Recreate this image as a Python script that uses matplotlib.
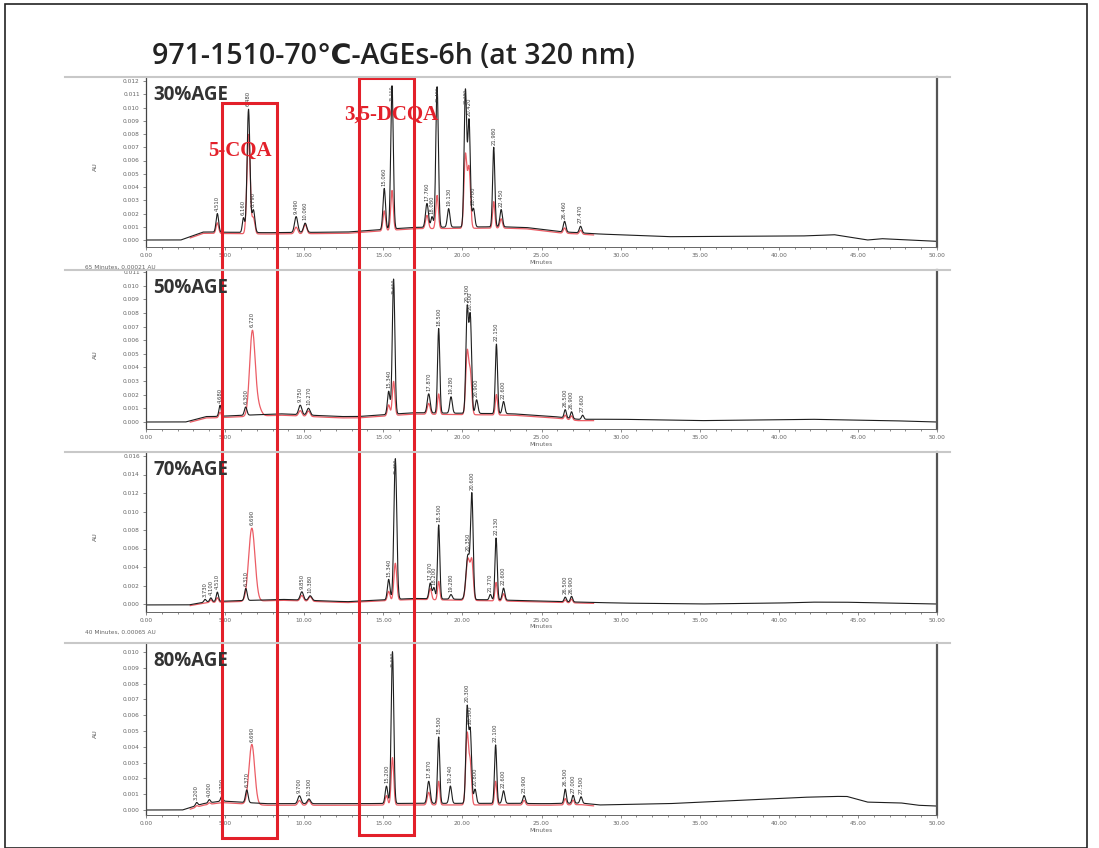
import numpy as np
import matplotlib.pyplot as plt
from matplotlib.patches import Rectangle
from matplotlib.lines import Line2D
from matplotlib.ticker import FormatStrFormatter, MultipleLocator

W, H = 1099, 848

title = "971-1510-70℃-AGEs-6h (at 320 nm)"
panel_names = ["30%AGE", "50%AGE", "70%AGE", "80%AGE"]
footer_texts = ["65 Minutes, 0.00021 AU", None, "40 Minutes, 0.00065 AU", None]

# baseline knots (minutes, AU)
base30_t = [0, 2.2, 3.6, 4.2, 7.6, 12.7, 16.9, 22.4, 24.0, 26.2, 28.7, 33.0, 41.4, 43.5, 45.6, 46.5, 50]
base30_v = [0.0, 0.0, 0.0006, 0.0006, 0.00055, 0.0006, 0.00095, 0.001, 0.00095, 0.00063, 0.00045, 0.00025, 0.0003, 0.0004, 0.0, 0.0001, -0.0001]
base50_t = [0, 2.5, 3.8, 4.2, 8.5, 12.3, 13.4, 16.9, 23.2, 25.8, 27.3, 30, 35, 42, 47, 50]
base50_v = [0.0, 0.0, 0.0004, 0.0004, 0.0006, 0.0004, 0.0004, 0.00068, 0.0006, 0.0004, 0.0002, 0.0002, 0.0001, 0.0002, 0.0001, 0.0]
base70_t = [0, 2.7, 3.9, 4.8, 8.6, 12.7, 16.9, 23.2, 27.5, 30, 35, 40, 42, 44, 47, 50]
base70_v = [-0.0001, -0.0001, 0.00025, 0.0003, 0.0005, 0.00025, 0.0006, 0.0004, 0.0002, 0.0001, 0.0, 0.0001, 0.0002, 0.0002, 0.0001, 0.0]
base80_t = [0, 2.3, 3.6, 4.8, 5.9, 7.6, 12.7, 16.9, 23.2, 25.3, 27.5, 28.7, 33.0, 37.2, 41.4, 43.5, 44.3, 45.6, 47.7, 48.8, 50]
base80_v = [0.0, 0.0, 0.0004, 0.00057, 0.0005, 0.0004, 0.0004, 0.00042, 0.00042, 0.0004, 0.00044, 0.00032, 0.0004, 0.0006, 0.0008, 0.00086, 0.00086, 0.0005, 0.00045, 0.0003, 0.00025]

# black trace peaks: (retention time, height above baseline, width)
peaks30 = [(4.51, 0.0014, 0.08), (6.16, 0.0011, 0.07), (6.48, 0.0093, 0.09), (6.79, 0.0017, 0.09),
           (9.49, 0.0012, 0.10), (10.06, 0.0007, 0.10), (15.06, 0.0031, 0.08), (15.55, 0.0108, 0.08),
           (17.76, 0.0018, 0.09), (18.08, 0.0008, 0.07), (18.40, 0.0106, 0.08), (19.13, 0.0014, 0.08),
           (20.19, 0.0103, 0.08), (20.42, 0.0080, 0.08), (20.70, 0.0014, 0.08), (21.98, 0.0060, 0.07),
           (22.45, 0.0013, 0.08), (26.46, 0.0008, 0.08), (27.47, 0.0005, 0.08)]
peaks50 = [(4.68, 0.0008, 0.07), (6.30, 0.0006, 0.08), (9.75, 0.0007, 0.10), (10.27, 0.0005, 0.10),
           (15.34, 0.0017, 0.08), (15.65, 0.0099, 0.08), (17.87, 0.0014, 0.09), (18.50, 0.0062, 0.07),
           (19.28, 0.0012, 0.08), (20.30, 0.0076, 0.08), (20.50, 0.0070, 0.08), (20.90, 0.0010, 0.08),
           (22.15, 0.0051, 0.07), (22.60, 0.0009, 0.08), (26.50, 0.0006, 0.07), (26.90, 0.0005, 0.07),
           (27.60, 0.0003, 0.07)]
peaks70 = [(3.73, 0.0003, 0.07), (4.10, 0.0004, 0.07), (4.51, 0.0010, 0.07), (6.31, 0.0013, 0.08),
           (9.85, 0.0009, 0.10), (10.38, 0.0005, 0.10), (15.34, 0.0022, 0.08), (15.76, 0.0152, 0.09),
           (17.97, 0.0017, 0.08), (18.20, 0.0012, 0.07), (18.50, 0.0080, 0.07), (19.28, 0.0005, 0.08),
           (20.35, 0.0048, 0.12), (20.60, 0.0110, 0.08), (21.77, 0.0006, 0.07), (22.13, 0.0067, 0.07),
           (22.60, 0.0013, 0.08), (26.50, 0.0005, 0.07), (26.90, 0.0006, 0.07)]
peaks80 = [(3.20, 0.0002, 0.07), (4.00, 0.0002, 0.07), (4.79, 0.0003, 0.07), (6.37, 0.0008, 0.08),
           (9.70, 0.0005, 0.10), (10.30, 0.0003, 0.10), (15.20, 0.0011, 0.08), (15.58, 0.0096, 0.08),
           (17.87, 0.0014, 0.09), (18.50, 0.0042, 0.07), (19.24, 0.0011, 0.08), (20.30, 0.0060, 0.08),
           (20.50, 0.0045, 0.08), (20.80, 0.0009, 0.08), (22.10, 0.0037, 0.07), (22.60, 0.0008, 0.08),
           (23.90, 0.0005, 0.08), (26.50, 0.0009, 0.07), (27.00, 0.0005, 0.07), (27.50, 0.0004, 0.07)]

# red overlay trace peaks
red30 = [(4.51, 0.0008, 0.08), (6.48, 0.0075, 0.10), (6.79, 0.0012, 0.09), (9.49, 0.0005, 0.10),
         (10.06, 0.0007, 0.10), (15.06, 0.0015, 0.08), (15.55, 0.0030, 0.08), (17.76, 0.0010, 0.09),
         (18.40, 0.0025, 0.08), (20.19, 0.0055, 0.09), (20.42, 0.0045, 0.09), (21.98, 0.0020, 0.07),
         (22.45, 0.0007, 0.08), (26.46, 0.0004, 0.08), (27.47, 0.0003, 0.08)]
red50 = [(4.68, 0.0004, 0.07), (6.72, 0.0061, 0.17), (7.05, 0.0008, 0.20), (9.75, 0.0004, 0.10),
         (10.27, 0.0004, 0.10), (15.34, 0.0008, 0.08), (15.65, 0.0025, 0.08), (17.87, 0.0008, 0.09),
         (18.50, 0.0015, 0.07), (20.30, 0.0045, 0.09), (20.50, 0.0030, 0.09), (22.15, 0.0015, 0.07),
         (26.50, 0.0003, 0.07), (26.90, 0.0003, 0.07)]
red70 = [(4.10, 0.0003, 0.07), (4.51, 0.0005, 0.07), (6.69, 0.0079, 0.20), (9.85, 0.0006, 0.10),
         (10.38, 0.0005, 0.10), (15.34, 0.0010, 0.08), (15.76, 0.0040, 0.09), (17.97, 0.0012, 0.08),
         (18.50, 0.0020, 0.07), (20.35, 0.0045, 0.12), (20.60, 0.0040, 0.09), (22.13, 0.0020, 0.07),
         (22.60, 0.0008, 0.08), (26.50, 0.0003, 0.07), (26.90, 0.0004, 0.07)]
red80 = [(3.20, 0.0001, 0.07), (4.00, 0.0001, 0.07), (6.69, 0.0038, 0.18), (9.70, 0.0003, 0.10),
         (10.30, 0.0003, 0.10), (15.20, 0.0006, 0.08), (15.58, 0.0030, 0.08), (17.87, 0.0008, 0.09),
         (18.50, 0.0015, 0.07), (20.30, 0.0045, 0.09), (20.50, 0.0025, 0.08), (22.10, 0.0015, 0.07),
         (23.90, 0.0003, 0.08), (26.50, 0.0004, 0.07), (27.00, 0.0003, 0.07)]

# 5-CQA retention time in the red trace (labelled where it stands above the black trace)
red_main_rt = [None, 6.72, 6.69, 6.69]

bases = [(base30_t, base30_v), (base50_t, base50_v), (base70_t, base70_v), (base80_t, base80_v)]
black_peaks = [peaks30, peaks50, peaks70, peaks80]
red_peaks = [red30, red50, red70, red80]

# panel frames in pixels: top, bottom, y of 0.000, px per 0.001 AU, top tick, tick step
frames = [(77, 247, 240, 13.25, 0.012, 0.001),
          (270, 429, 422, 13.64, 0.011, 0.001),
          (452, 612, 604, 9.25, 0.016, 0.002),
          (643, 815, 810, 15.8, 0.010, 0.001)]
X0, X1 = 146, 937
LABEL_PX = 21  # length of a rotated retention time label

fig = plt.figure(figsize=(W / 100, H / 100), dpi=100)
fig.patch.set_facecolor("white")


def fx(px):
    return px / W


def fy(py):
    return 1 - py / H


def trace(t, base, peaks):
    y = np.interp(t, base[0], base[1])
    for rt, h, w in peaks:
        y = y + h * np.exp(-0.5 * ((t - rt) / w) ** 2)
    return y


def rt_label(ax, rt, apex, yhi, scale):
    # labels that would run past the top sit on the peak itself, a bit smaller
    if apex + LABEL_PX / scale * 0.001 > yhi:
        off, va, size = 0, "top", 3.2
    else:
        off, va, size = 2, "bottom", 3.8
    ax.annotate(f"{rt:.3f}", (rt, apex), xytext=(0, off), textcoords="offset points",
                rotation=90, ha="center", va=va, fontsize=size, color="#3a3a3a")


t = np.linspace(0, 50, 5001)

for i in range(4):
    top, bot, zero, scale, ytop, ystep = frames[i]
    ylo = -(bot - zero) / scale * 0.001
    yhi = (zero - top) / scale * 0.001
    ax = fig.add_axes([fx(X0), fy(bot), (X1 - X0) / W, (bot - top) / H])
    ax.set_xlim(0, 50)
    ax.set_ylim(ylo, yhi)

    black = trace(t, bases[i], black_peaks[i])
    red = trace(t, bases[i], red_peaks[i]) - 0.0001
    win = (t > 2.8) & (t < 28.3)
    ax.plot(t[win], red[win], color="#e8404a", lw=0.9, alpha=0.85)
    ax.plot(t, black, color="#1e1e1e", lw=0.8)

    # retention time labels above peaks
    for rt, h, w in black_peaks[i]:
        near = (t > rt - 0.05) & (t < rt + 0.05)
        rt_label(ax, rt, black[near].max(), yhi, scale)
    if red_main_rt[i] is not None:
        rt = red_main_rt[i]
        near = (t > rt - 0.05) & (t < rt + 0.05)
        rt_label(ax, rt, red[near].max(), yhi, scale)

    ax.set_yticks(np.arange(0, ytop + ystep / 2, ystep))
    ax.yaxis.set_major_formatter(FormatStrFormatter("%.3f"))
    ax.xaxis.set_major_locator(MultipleLocator(5))
    ax.xaxis.set_minor_locator(MultipleLocator(1))
    ax.xaxis.set_major_formatter(FormatStrFormatter("%.2f"))
    ax.tick_params(axis="both", which="both", labelsize=4.2, labelcolor="#666666",
                   color="#777777", length=2.5, width=0.6, pad=2)
    ax.tick_params(axis="x", which="minor", length=1.5)
    ax.spines["top"].set_visible(False)
    ax.spines["right"].set_color("#555555")
    ax.spines["right"].set_linewidth(1.6)
    ax.spines["left"].set_color("#444444")
    ax.spines["left"].set_linewidth(0.9)
    ax.spines["bottom"].set_color("#666666")
    ax.spines["bottom"].set_linewidth(0.7)

    # panel separator, name, axis titles
    fig.add_artist(Line2D([fx(65), fx(950)], [fy(top), fy(top)], color="#c8c8c8", lw=1.5))
    fig.text(fx(153), fy(top + 18), panel_names[i], ha="left", va="center",
             fontsize=13.5, fontweight="bold", color="#333333",
             family=["Open Sans", "DejaVu Sans"])
    fig.text(fx(95), fy((top + bot) / 2 + 5), "AU", rotation=90, ha="center", va="center",
             fontsize=4.5, color="#555555")
    fig.text(fx(541), fy(bot + 15), "Minutes", ha="center", va="center",
             fontsize=4.2, color="#666666")
    if footer_texts[i]:
        fig.text(fx(85), fy(bot + 20), footer_texts[i], ha="left", va="center",
                 fontsize=4.2, color="#666666")

fig.text(fx(152), fy(56), title, ha="left", va="center", fontsize=20.5,
         fontweight="semibold", color="#222222", family=["Open Sans", "DejaVu Sans"])

# highlight boxes for the two marker compounds
red_box = "#e3202a"
fig.add_artist(Rectangle((fx(222), fy(838)), (277 - 222) / W, (838 - 103) / H,
                         transform=fig.transFigure, fill=False, ec=red_box, lw=2.2))
fig.add_artist(Rectangle((fx(359), fy(835)), (414 - 359) / W, (835 - 78) / H,
                         transform=fig.transFigure, fill=False, ec=red_box, lw=2.2))
fig.text(fx(240), fy(151), "5-CQA", ha="center", va="center", fontsize=15,
         fontweight="bold", color=red_box, family=["Liberation Serif", "DejaVu Serif"])
fig.text(fx(391), fy(115), "3,5-DCQA", ha="center", va="center", fontsize=15,
         fontweight="bold", color=red_box, family=["Liberation Serif", "DejaVu Serif"])

# outer frame
fig.add_artist(Rectangle((fx(5), fy(848)), (1087 - 5) / W, (848 - 4) / H,
                         transform=fig.transFigure, fill=False, ec="#222222", lw=1.2))

fig.savefig("out.png", dpi=100)
